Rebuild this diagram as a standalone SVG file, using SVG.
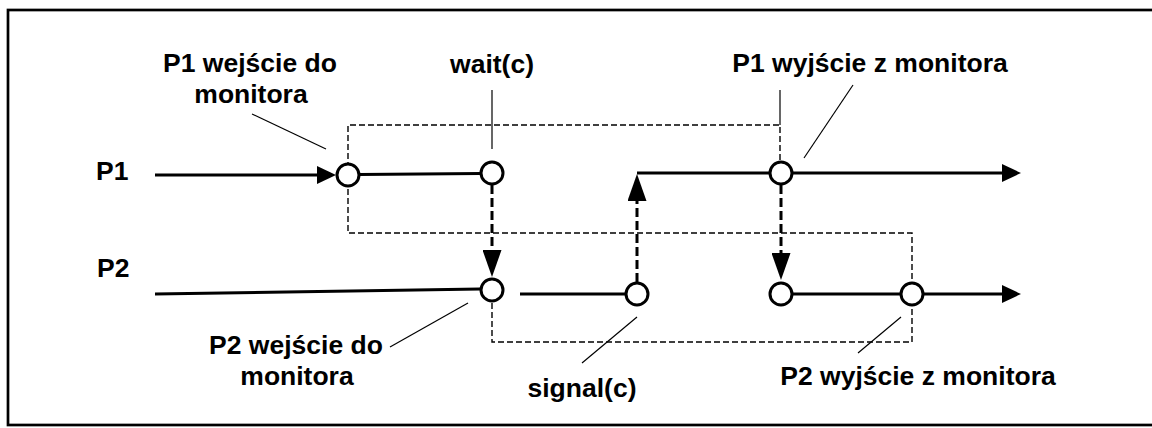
<svg xmlns="http://www.w3.org/2000/svg" width="1152" height="428" viewBox="0 0 1152 428">
  <style>
    .lbl { font-family: "Liberation Sans", Arial, sans-serif; font-weight: bold; font-size: 26.5px; fill: #000; }
    .mid { text-anchor: middle; }
    .solid { fill: none; stroke: #000; stroke-width: 3; }
    .flow { fill: none; stroke: #000; stroke-width: 3; stroke-dasharray: 9 4; }
    .mon { fill: none; stroke: #000; stroke-width: 1.4; stroke-dasharray: 6 3; }
    .lead { fill: none; stroke: #000; stroke-width: 1.2; }
    .ev { fill: #fff; stroke: #000; stroke-width: 3; }
  </style>
  <defs>
    <marker id="ah" viewBox="0 0 19 18" refX="0" refY="9" markerWidth="19" markerHeight="18" markerUnits="userSpaceOnUse" orient="auto">
      <path d="M0,0 L19,9 L0,18 Z" fill="#000"/>
    </marker>
    <marker id="av" viewBox="0 0 27 19" refX="0" refY="9.5" markerWidth="27" markerHeight="19" markerUnits="userSpaceOnUse" orient="auto">
      <path d="M0,0 L27,9.5 L0,19 Z" fill="#000"/>
    </marker>
  </defs>
  <rect x="0" y="0" width="1152" height="428" fill="#fff"/>
  <rect x="8" y="10" width="1160" height="415" fill="none" stroke="#000" stroke-width="2.7"/>

  <g id="connectors">
    <!-- monitor boundary -->
    <path class="mon" d="M492,303 V342 H912 V233 H348 V125 H780 V160"/>
    <!-- process lines -->
    <path class="solid" d="M155,175 H317" marker-end="url(#ah)"/>
    <path class="solid" d="M359,174.5 L481,173.5"/>
    <path class="solid" d="M155,294 L480,289"/>
    <path class="solid" d="M520,294 H625"/>
    <path class="solid" d="M637,173 H769"/>
    <path class="solid" d="M793,173 H1002" marker-end="url(#ah)"/>
    <path class="solid" d="M793,294 H900"/>
    <path class="solid" d="M924,294 H1002" marker-end="url(#ah)"/>
    <!-- control transfers -->
    <path class="flow" d="M492,185 V250" marker-end="url(#av)"/>
    <path class="flow" d="M637,282 V201" marker-end="url(#av)"/>
    <path class="flow" d="M781,185 V253" marker-end="url(#av)"/>
    <!-- label leaders -->
    <path class="lead" d="M252,114 L326,149"/>
    <path class="lead" d="M492,90 V149"/>
    <path class="lead" d="M780,90 V125"/>
    <path class="lead" d="M853,85 L804,158"/>
    <path class="lead" d="M468,303 L390,347"/>
    <path class="lead" d="M637,317 L582,363"/>
    <path class="lead" d="M901,317 L858,353"/>
  </g>

  <g id="p1-enter"><circle class="ev" cx="348" cy="175" r="11"/></g>
  <g id="p1-wait"><circle class="ev" cx="492" cy="173" r="11"/></g>
  <g id="p1-exit"><circle class="ev" cx="781" cy="173" r="11"/></g>
  <g id="p2-enter"><circle class="ev" cx="492" cy="290" r="11"/></g>
  <g id="p2-signal"><circle class="ev" cx="637" cy="294" r="11"/></g>
  <g id="p2-resume"><circle class="ev" cx="781" cy="294" r="11"/></g>
  <g id="p2-exit"><circle class="ev" cx="912" cy="294" r="11"/></g>

  <g id="label-p1"><text class="lbl" x="96" y="180">P1</text></g>
  <g id="label-p2"><text class="lbl" x="97" y="277">P2</text></g>
  <g id="label-p1-enter"><text class="lbl mid" x="250" y="72">P1 wejście do</text><text class="lbl mid" x="251" y="103">monitora</text></g>
  <g id="label-wait"><text class="lbl mid" x="492" y="73">wait(c)</text></g>
  <g id="label-p1-exit"><text class="lbl mid" x="870" y="72">P1 wyjście z monitora</text></g>
  <g id="label-p2-enter"><text class="lbl mid" x="296" y="354">P2 wejście do</text><text class="lbl mid" x="297" y="385">monitora</text></g>
  <g id="label-signal"><text class="lbl mid" x="582" y="397">signal(c)</text></g>
  <g id="label-p2-exit"><text class="lbl mid" x="918" y="385">P2 wyjście z monitora</text></g>
</svg>
